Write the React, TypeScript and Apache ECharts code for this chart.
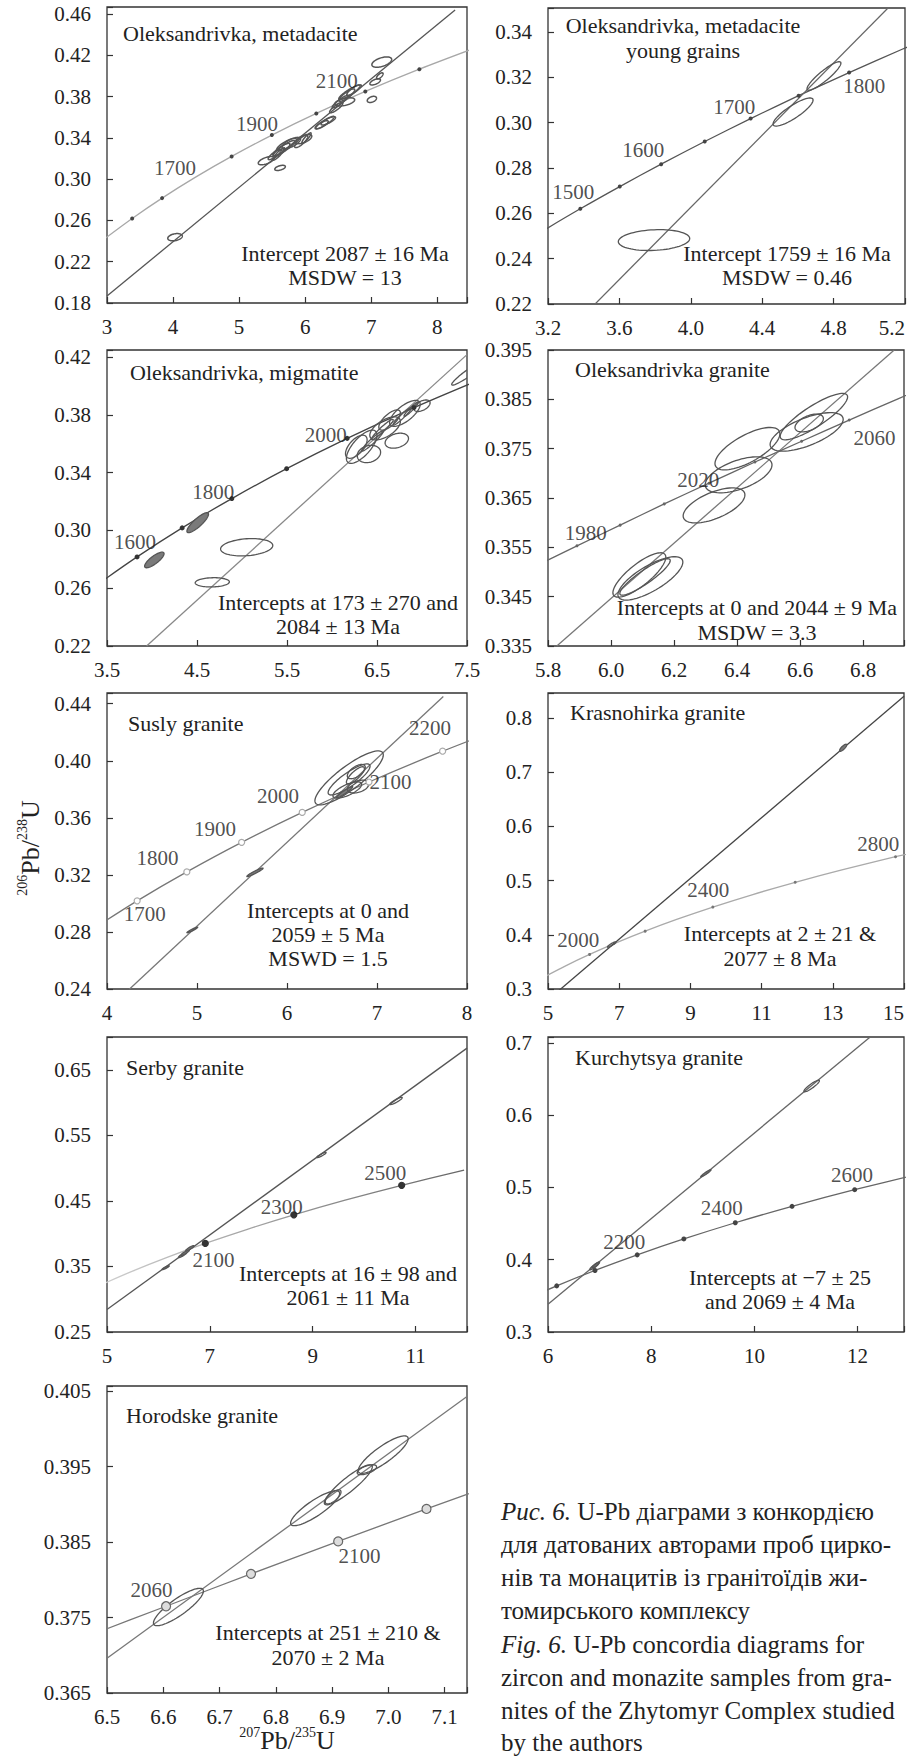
import { useEffect, useRef } from 'react';
import * as echarts from 'echarts';

const FONT = '"Liberation Serif", "Times New Roman", serif';

// Concordia curve points (age in Ma -> 207Pb/235U, 206Pb/238U)
const CONC_AGES = [1300, 1400, 1450, 1500, 1550, 1600, 1650, 1700, 1750, 1800, 1850, 1900, 1940, 1950, 1960, 1980, 2000, 2020, 2040, 2060, 2080, 2100, 2120, 2140, 2200, 2300, 2400, 2500, 2600, 2700, 2800, 2900];
const CONC_X = [2.598, 2.970, 3.170, 3.381, 3.602, 3.834, 4.078, 4.335, 4.604, 4.887, 5.184, 5.496, 5.757, 5.824, 5.892, 6.029, 6.169, 6.311, 6.457, 6.605, 6.756, 6.911, 7.068, 7.228, 7.729, 8.633, 9.630, 10.730, 11.944, 13.283, 14.762, 16.393];
const CONC_Y = [0.2234, 0.2426, 0.2522, 0.2620, 0.2718, 0.2817, 0.2917, 0.3018, 0.3119, 0.3221, 0.3324, 0.3428, 0.3511, 0.3532, 0.3553, 0.3595, 0.3638, 0.3680, 0.3723, 0.3765, 0.3808, 0.3851, 0.3894, 0.3937, 0.4067, 0.4287, 0.4511, 0.4738, 0.4968, 0.5202, 0.5440, 0.5681];

// ---------- Panel 1: Oleksandrivka, metadacite ----------
const P1_TITLE = ['Oleksandrivka, metadacite'];
const P1_NOTE = ['Intercept 2087 ± 16 Ma', 'MSDW = 13'];
const P1_XLAB = ['3', '4', '5', '6', '7', '8'];
const P1_YLAB = ['0.18', '0.22', '0.26', '0.30', '0.34', '0.38', '0.42', '0.46'];
const P1_CURVE = [1400, 1500, 1600, 1700, 1800, 1900, 2000, 2100, 2200, 2300];
const P1_MARKS = [1500, 1600, 1800, 1900, 2000, 2100, 2200];
const P1_AGE_LABELS = [[4.03, 0.3106, '1700'], [5.27, 0.3536, '1900'], [6.48, 0.3953, '2100']];
const P1_DISCORDIA = [[3, 0.1868], [8.27, 0.4642]];
// [x, y, half-width x, half-height y, rho, filled]
const P1_ELLIPSES = [
  [4.03, 0.2438, 0.11, 0.0035, 0.3, 0],
  [5.41, 0.318, 0.12, 0.004, 0.6, 0],
  [5.62, 0.311, 0.08, 0.0025, 0.5, 0],
  [5.54, 0.324, 0.10, 0.005, 0.85, 0],
  [5.64, 0.3288, 0.13, 0.006, 0.85, 0],
  [5.72, 0.3336, 0.15, 0.006, 0.8, 0],
  [5.79, 0.3351, 0.14, 0.0055, 0.7, 0],
  [5.60, 0.3245, 0.09, 0.006, 0.9, 0],
  [5.68, 0.3300, 0.16, 0.0075, 0.9, 0],
  [5.94, 0.3367, 0.10, 0.006, 0.8, 0],
  [6.02, 0.340, 0.07, 0.005, 0.9, 0],
  [5.98, 0.3390, 0.12, 0.0045, 0.6, 0],
  [6.25, 0.3528, 0.10, 0.004, 0.8, 0],
  [6.35, 0.3566, 0.11, 0.004, 0.8, 0],
  [6.30, 0.3550, 0.14, 0.006, 0.9, 0],
  [6.47, 0.3694, 0.10, 0.005, 0.85, 0],
  [6.53, 0.3752, 0.12, 0.006, 0.9, 0],
  [6.63, 0.3816, 0.12, 0.006, 0.85, 0],
  [6.73, 0.3864, 0.10, 0.005, 0.85, 0],
  [6.68, 0.3845, 0.17, 0.007, 0.9, 0],
  [6.60, 0.375, 0.15, 0.004, 0.5, 0],
  [7.01, 0.3774, 0.07, 0.003, 0.4, 0],
  [7.06, 0.3944, 0.08, 0.003, 0.6, 0],
  [7.16, 0.4136, 0.15, 0.005, 0.5, 0],
  [7.13, 0.4002, 0.05, 0.003, 0.7, 0],
];

// ---------- Panel 2: metadacite young grains ----------
const P2_TITLE = ['Oleksandrivka, metadacite', 'young grains'];
const P2_NOTE = ['Intercept 1759 ± 16 Ma', 'MSDW = 0.46'];
const P2_XLAB = ['3.2', '3.6', '4.0', '4.4', '4.8', '5.2'];
const P2_YLAB = ['0.22', '0.24', '0.26', '0.28', '0.30', '0.32', '0.34'];
const P2_CURVE = [1400, 1450, 1500, 1550, 1600, 1650, 1700, 1750, 1800, 1850, 1900];
const P2_MARKS = [1500, 1550, 1600, 1650, 1700, 1750, 1800];
const P2_AGE_LABELS = [[3.342, 0.2696, '1500'], [3.734, 0.288, '1600'], [4.244, 0.3071, '1700'], [4.972, 0.3162, '1800']];
const P2_DISCORDIA = [[3.46, 0.2197], [5.12, 0.3518]];
const P2_ELLIPSES = [
  [3.794, 0.2482, 0.2, 0.0046, 0.15, 0],
  [4.573, 0.3047, 0.112, 0.0062, 0.85, 0],
  [4.746, 0.3206, 0.095, 0.0063, 0.9, 0],
];

// ---------- Panel 3: migmatite ----------
const P3_TITLE = ['Oleksandrivka, migmatite'];
const P3_NOTE = ['Intercepts at 173 ± 270 and', '2084 ± 13 Ma'];
const P3_XLAB = ['3.5', '4.5', '5.5', '6.5', '7.5'];
const P3_YLAB = ['0.22', '0.26', '0.30', '0.34', '0.38', '0.42'];
const P3_CURVE = [1500, 1600, 1700, 1800, 1900, 2000, 2100, 2200];
const P3_MARKS = [1600, 1700, 1800, 1900, 2000, 2100];
const P3_AGE_LABELS = [[3.81, 0.2922, '1600'], [4.68, 0.3269, '1800'], [5.93, 0.3661, '2000']];
const P3_DISCORDIA = [[3.94, 0.22], [7.5, 0.4218]];
const P3_ELLIPSES = [
  [4.026, 0.2796, 0.108, 0.0054, 0.8, 1],
  [4.508, 0.3054, 0.12, 0.0069, 0.85, 1],
  [5.052, 0.2884, 0.29, 0.006, 0.2, 0],
  [4.67, 0.2641, 0.19, 0.0032, 0.1, 0],
  [7.53, 0.4097, 0.2, 0.009, 0.95, 0],
  [6.33, 0.358, 0.17, 0.0115, 0.7, 0],
  [6.41, 0.353, 0.13, 0.006, 0.2, 0],
  [6.72, 0.3622, 0.13, 0.0052, 0.3, 0],
  [6.59, 0.3707, 0.17, 0.008, 0.6, 0],
  [6.81, 0.3811, 0.17, 0.009, 0.7, 0],
  [7.0, 0.3864, 0.09, 0.004, 0.5, 0],
  [6.45, 0.362, 0.12, 0.007, 0.95, 0],
  [6.56, 0.370, 0.12, 0.007, 0.95, 0],
  [6.78, 0.379, 0.10, 0.006, 0.95, 0],
  [6.88, 0.384, 0.08, 0.005, 0.95, 0],
  [6.27, 0.358, 0.12, 0.008, 0.6, 0],
  [6.64, 0.3765, 0.12, 0.007, 0.7, 0],
];

// ---------- Panel 4: Oleksandrivka granite ----------
const P4_TITLE = ['Oleksandrivka granite'];
const P4_NOTE = ['Intercepts at 0 and 2044 ± 9 Ma', 'MSDW = 3.3'];
const P4_XLAB = ['5.8', '6.0', '6.2', '6.4', '6.6', '6.8'];
const P4_YLAB = ['0.335', '0.345', '0.355', '0.365', '0.375', '0.385', '0.395'];
const P4_CURVE = [1940, 1960, 1980, 2000, 2020, 2040, 2060, 2080, 2100, 2120];
const P4_MARKS = [1960, 1980, 2000, 2020, 2040, 2060, 2080];
const P4_AGE_LABELS = [[5.92, 0.358, '1980'], [6.277, 0.3687, '2020'], [6.836, 0.3771, '2060']];
const P4_DISCORDIA = [[5.828, 0.335], [6.899, 0.395]];
const P4_ELLIPSES = [
  [6.09, 0.3494, 0.084, 0.0045, 0.8, 0],
  [6.125, 0.3487, 0.103, 0.0044, 0.75, 0],
  [6.108, 0.349, 0.08, 0.0037, 0.9, 0],
  [6.327, 0.3635, 0.098, 0.00355, 0.6, 0],
  [6.405, 0.3697, 0.106, 0.00365, 0.55, 0],
  [6.433, 0.375, 0.103, 0.0043, 0.7, 0],
  [6.621, 0.3784, 0.116, 0.0039, 0.65, 0],
  [6.644, 0.3815, 0.107, 0.0047, 0.85, 0],
  [6.629, 0.3802, 0.045, 0.0018, 0.5, 0],
];

// ---------- Panel 5: Susly granite ----------
const P5_TITLE = ['Susly granite'];
const P5_NOTE = ['Intercepts at 0 and', '2059 ± 5 Ma', 'MSWD = 1.5'];
const P5_XLAB = ['4', '5', '6', '7', '8'];
const P5_YLAB = ['0.24', '0.28', '0.32', '0.36', '0.40', '0.44'];
const P5_CURVE = [1600, 1700, 1800, 1900, 2000, 2100, 2200, 2300];
const P5_MARKS = [1700, 1800, 1900, 2000, 2100, 2200];
const P5_AGE_LABELS = [[4.42, 0.2924, '1700'], [4.56, 0.3321, '1800'], [5.2, 0.3522, '1900'], [5.9, 0.3756, '2000'], [7.15, 0.3854, '2100'], [7.59, 0.4232, '2200']];
const P5_DISCORDIA = [[4.248, 0.2398], [7.737, 0.445]];
const P5_ELLIPSES = [
  [4.948, 0.2814, 0.06, 0.002, 0.95, 1],
  [5.644, 0.3218, 0.09, 0.003, 0.95, 1],
  [6.69, 0.388, 0.38, 0.0189, 0.85, 0],
  [6.69, 0.3869, 0.233, 0.0109, 0.85, 0],
  [6.77, 0.3924, 0.10, 0.005, 0.6, 0],
  [6.67, 0.3795, 0.16, 0.0057, 0.7, 0],
  [6.64, 0.378, 0.09, 0.004, 0.95, 1],
  [6.76, 0.3898, 0.10, 0.006, 0.8, 0],
  [6.79, 0.3819, 0.12, 0.0045, 0.4, 0],
];

// ---------- Panel 6: Krasnohirka granite ----------
const P6_TITLE = ['Krasnohirka granite'];
const P6_NOTE = ['Intercepts at 2 ± 21 &', '2077 ± 8 Ma'];
const P6_XLAB = ['5', '7', '9', '11', '13', '15'];
const P6_YLAB = ['0.3', '0.4', '0.5', '0.6', '0.7', '0.8'];
const P6_CURVE = [1800, 1900, 2000, 2100, 2200, 2300, 2400, 2500, 2600, 2700, 2800, 2900];
const P6_MARKS = [2000, 2200, 2400, 2600, 2800];
const P6_AGE_LABELS = [[5.85, 0.391, '2000'], [9.5, 0.482, '2400'], [14.28, 0.567, '2800']];
const P6_DISCORDIA = [[5.3, 0.2968], [15, 0.84]];
const P6_ELLIPSES = [
  [13.29, 0.745, 0.10, 0.0065, 0.8, 1],
  [6.79, 0.382, 0.12, 0.005, 0.9, 0],
];

// ---------- Panel 7: Serby granite ----------
const P7_TITLE = ['Serby granite'];
const P7_NOTE = ['Intercepts at 16 ± 98 and', '2061 ± 11 Ma'];
const P7_XLAB = ['5', '7', '9', '11'];
const P7_YLAB = ['0.25', '0.35', '0.45', '0.55', '0.65'];
const P7_CURVE = [1800, 1900, 2000, 2100, 2200, 2300, 2400, 2500, 2600];
const P7_MARKS = [2100, 2300, 2500];
const P7_AGE_LABELS = [[7.07, 0.3598, '2100'], [8.4, 0.4411, '2300'], [10.41, 0.492, '2500']];
const P7_DISCORDIA = [[5, 0.2842], [12, 0.683]];
const P7_ELLIPSES = [
  [6.14, 0.3481, 0.07, 0.003, 0.9, 1],
  [6.47, 0.3675, 0.08, 0.004, 0.9, 1],
  [6.52, 0.371, 0.08, 0.004, 0.9, 1],
  [6.61, 0.3777, 0.08, 0.004, 0.9, 1],
  [9.17, 0.52, 0.09, 0.004, 0.9, 0],
  [10.62, 0.6024, 0.12, 0.0055, 0.9, 0],
];

// ---------- Panel 8: Kurchytsya granite ----------
const P8_TITLE = ['Kurchytsya granite'];
const P8_NOTE = ['Intercepts at −7 ± 25', 'and 2069 ± 4 Ma'];
const P8_XLAB = ['6', '8', '10', '12'];
const P8_YLAB = ['0.3', '0.4', '0.5', '0.6', '0.7'];
const P8_CURVE = [1900, 2000, 2100, 2200, 2300, 2400, 2500, 2600, 2700];
const P8_MARKS = [2000, 2100, 2200, 2300, 2400, 2500, 2600];
const P8_AGE_LABELS = [[7.48, 0.4241, '2200'], [9.37, 0.4711, '2400'], [11.89, 0.5172, '2600']];
const P8_DISCORDIA = [[6, 0.3384], [12.25, 0.7084]];
const P8_ELLIPSES = [
  [6.9, 0.391, 0.09, 0.005, 0.9, 1],
  [6.93, 0.393, 0.07, 0.004, 0.9, 0],
  [9.06, 0.5195, 0.1, 0.005, 0.95, 1],
  [11.11, 0.6402, 0.15, 0.008, 0.9, 0],
];

// ---------- Panel 9: Horodske granite ----------
const P9_TITLE = ['Horodske granite'];
const P9_NOTE = ['Intercepts at 251 ± 210 &', '2070 ± 2 Ma'];
const P9_XLAB = ['6.5', '6.6', '6.7', '6.8', '6.9', '7.0', '7.1'];
const P9_YLAB = ['0.365', '0.375', '0.385', '0.395', '0.405'];
const P9_CURVE = [2040, 2060, 2080, 2100, 2120, 2140];
const P9_MARKS = [2060, 2080, 2100, 2120];
const P9_AGE_LABELS = [[6.579, 0.3787, '2060'], [6.949, 0.3832, '2100']];
const P9_DISCORDIA = [[6.5, 0.3696], [7.14, 0.4043]];
const P9_ELLIPSES = [
  [6.627, 0.3764, 0.0444, 0.00248, 0.85, 0],
  [6.87, 0.3895, 0.0436, 0.00232, 0.85, 0],
  [6.902, 0.391, 0.014, 0.00093, 0.7, 0],
  [6.929, 0.3926, 0.0427, 0.00265, 0.9, 0],
  [6.962, 0.3946, 0.0172, 0.00066, 0.6, 0],
  [6.991, 0.3966, 0.0444, 0.00249, 0.85, 0],
];

// ---------- caption & axis titles ----------
const CAPTION = [
  '{i|Рис. 6.} U-Pb діаграми з конкордією',
  'для датованих авторами проб цирко-',
  'нів та монацитів із гранітоїдів жи-',
  'томирського комплексу',
  '{i|Fig. 6.} U-Pb concordia diagrams for',
  'zircon and monazite samples from gra-',
  'nites of the Zhytomyr Complex studied',
  'by the authors',
];
const Y_TITLE = '{s|206}{b|Pb/}{s|238}{b|U}';
const X_TITLE = '{s|207}{b|Pb/}{s|235}{b|U}';

type Panel = {
  grid: { left: number; top: number; width: number; height: number };
  x: number[]; y: number[];
  xLab: string[]; yLab: string[];
  curve: number[]; marks: number[];
  labels: any[]; disc: number[][]; ell: number[][];
  title: string[]; titlePos: { x: number; y: number; align: string; dy: number };
  note: string[]; notePos: { x: number; y: number; dy: number };
  concColor: any; discColor: string; ellWidth: number; alignMax: boolean;
  mark: { size: number; fill: string; stroke: string };
};

const PANELS: Panel[] = [
  {
    grid: { left: 107, top: 7, width: 360, height: 296 }, x: [3, 8.45, 1], y: [0.18, 0.467, 0.04],
    xLab: P1_XLAB, yLab: P1_YLAB, curve: P1_CURVE, marks: P1_MARKS, labels: P1_AGE_LABELS, disc: P1_DISCORDIA, ell: P1_ELLIPSES,
    title: P1_TITLE, titlePos: { x: 123, y: 33, align: 'left', dy: 25 }, note: P1_NOTE, notePos: { x: 345, y: 253, dy: 24 },
    concColor: '#a8a8a8', discColor: '#555', ellWidth: 1.5, alignMax: false, mark: { size: 4, fill: '#444', stroke: '#444' },
  },
  {
    grid: { left: 548, top: 8, width: 357, height: 296 }, x: [3.2, 5.2, 0.4], y: [0.22, 0.3506, 0.02],
    xLab: P2_XLAB, yLab: P2_YLAB, curve: P2_CURVE, marks: P2_MARKS, labels: P2_AGE_LABELS, disc: P2_DISCORDIA, ell: P2_ELLIPSES,
    title: P2_TITLE, titlePos: { x: 683, y: 25, align: 'center', dy: 25 }, note: P2_NOTE, notePos: { x: 787, y: 253, dy: 24 },
    concColor: '#555', discColor: '#666', ellWidth: 1.3, alignMax: true, mark: { size: 4, fill: '#444', stroke: '#444' },
  },
  {
    grid: { left: 107, top: 350, width: 360, height: 296 }, x: [3.5, 7.5, 1], y: [0.22, 0.425, 0.04],
    xLab: P3_XLAB, yLab: P3_YLAB, curve: P3_CURVE, marks: P3_MARKS, labels: P3_AGE_LABELS, disc: P3_DISCORDIA, ell: P3_ELLIPSES,
    title: P3_TITLE, titlePos: { x: 130, y: 372, align: 'left', dy: 25 }, note: P3_NOTE, notePos: { x: 338, y: 602, dy: 24 },
    concColor: '#444', discColor: '#888', ellWidth: 1.3, alignMax: false, mark: { size: 5, fill: '#333', stroke: '#333' },
  },
  {
    grid: { left: 548, top: 350, width: 356, height: 296 }, x: [5.8, 6.93, 0.2], y: [0.335, 0.395, 0.01],
    xLab: P4_XLAB, yLab: P4_YLAB, curve: P4_CURVE, marks: P4_MARKS, labels: P4_AGE_LABELS, disc: P4_DISCORDIA, ell: P4_ELLIPSES,
    title: P4_TITLE, titlePos: { x: 575, y: 369, align: 'left', dy: 25 }, note: P4_NOTE, notePos: { x: 757, y: 607, dy: 25 },
    concColor: '#666', discColor: '#777', ellWidth: 1.3, alignMax: false, mark: { size: 3, fill: '#666', stroke: '#666' },
  },
  {
    grid: { left: 107, top: 693, width: 360, height: 296 }, x: [4, 8, 1], y: [0.24, 0.4475, 0.04],
    xLab: P5_XLAB, yLab: P5_YLAB, curve: P5_CURVE, marks: P5_MARKS, labels: P5_AGE_LABELS, disc: P5_DISCORDIA, ell: P5_ELLIPSES,
    title: P5_TITLE, titlePos: { x: 128, y: 723, align: 'left', dy: 25 }, note: P5_NOTE, notePos: { x: 328, y: 910, dy: 24 },
    concColor: '#777', discColor: '#777', ellWidth: 1.3, alignMax: false, mark: { size: 6, fill: '#fff', stroke: '#aaa' },
  },
  {
    grid: { left: 548, top: 693, width: 356, height: 296 }, x: [5, 15, 2], y: [0.3, 0.846, 0.1],
    xLab: P6_XLAB, yLab: P6_YLAB, curve: P6_CURVE, marks: P6_MARKS, labels: P6_AGE_LABELS, disc: P6_DISCORDIA, ell: P6_ELLIPSES,
    title: P6_TITLE, titlePos: { x: 570, y: 712, align: 'left', dy: 25 }, note: P6_NOTE, notePos: { x: 780, y: 933, dy: 25 },
    concColor: '#aaa', discColor: '#444', ellWidth: 1.3, alignMax: true, mark: { size: 3, fill: '#777', stroke: '#777' },
  },
  {
    grid: { left: 107, top: 1037, width: 360, height: 295 }, x: [5, 12, 2], y: [0.25, 0.70, 0.1],
    xLab: P7_XLAB, yLab: P7_YLAB, curve: P7_CURVE, marks: P7_MARKS, labels: P7_AGE_LABELS, disc: P7_DISCORDIA, ell: P7_ELLIPSES,
    title: P7_TITLE, titlePos: { x: 126, y: 1067, align: 'left', dy: 25 }, note: P7_NOTE, notePos: { x: 348, y: 1273, dy: 24 },
    concColor: {
      type: 'linear', x: 0, y: 0, x2: 1, y2: 0,
      colorStops: [{ offset: 0, color: '#cfcfcf' }, { offset: 0.35, color: '#aaa' }, { offset: 1, color: '#666' }],
    },
    discColor: '#555', ellWidth: 1.3, alignMax: false, mark: { size: 6, fill: '#333', stroke: '#333' },
  },
  {
    grid: { left: 548, top: 1037, width: 356, height: 295 }, x: [6, 12.9, 2], y: [0.3, 0.708, 0.1],
    xLab: P8_XLAB, yLab: P8_YLAB, curve: P8_CURVE, marks: P8_MARKS, labels: P8_AGE_LABELS, disc: P8_DISCORDIA, ell: P8_ELLIPSES,
    title: P8_TITLE, titlePos: { x: 575, y: 1057, align: 'left', dy: 25 }, note: P8_NOTE, notePos: { x: 780, y: 1277, dy: 24 },
    concColor: '#666', discColor: '#666', ellWidth: 1.3, alignMax: false, mark: { size: 5, fill: '#444', stroke: '#444' },
  },
  {
    grid: { left: 107, top: 1386, width: 360, height: 307 }, x: [6.5, 7.14, 0.1], y: [0.365, 0.4057, 0.01],
    xLab: P9_XLAB, yLab: P9_YLAB, curve: P9_CURVE, marks: P9_MARKS, labels: P9_AGE_LABELS, disc: P9_DISCORDIA, ell: P9_ELLIPSES,
    title: P9_TITLE, titlePos: { x: 126, y: 1415, align: 'left', dy: 25 }, note: P9_NOTE, notePos: { x: 328, y: 1632, dy: 25 },
    concColor: '#777', discColor: '#777', ellWidth: 1.3, alignMax: false, mark: { size: 9, fill: '#ddd', stroke: '#666' },
  },
];

function conc(age: number): number[] {
  const i = CONC_AGES.indexOf(age);
  return [CONC_X[i], CONC_Y[i]];
}

function labelFormatter(labels: string[]) {
  return (v: number) => {
    const hit = labels.find((l) => Math.abs(parseFloat(l) - v) < 1e-6);
    return hit === undefined ? '' : hit;
  };
}

function txt(x: number, y: number, text: string, align: string, size = 22, extra: any = {}) {
  return {
    type: 'text', x, y, silent: true,
    style: {
      text, fill: '#222', fontSize: size, fontFamily: FONT,
      align, verticalAlign: 'middle', textAlign: align, textVerticalAlign: 'middle', ...extra,
    },
  };
}

function buildOption() {
  const grid: any[] = [];
  const xAxis: any[] = [];
  const yAxis: any[] = [];
  const series: any[] = [];
  const graphic: any[] = [];
  const axisLabelStyle = { fontFamily: FONT, fontSize: 21, color: '#222' };

  PANELS.forEach((p, i) => {
    grid.push({
      ...p.grid, show: true, borderColor: '#333', borderWidth: 1.3, backgroundColor: 'transparent',
      containLabel: false, outerBoundsMode: 'none',
    });
    xAxis.push({
      type: 'value', gridIndex: i, min: p.x[0], max: p.x[1], interval: p.x[2],
      axisLine: { show: false }, splitLine: { show: false },
      axisTick: { show: true, inside: true, length: 6, lineStyle: { color: '#333', width: 1.2 } },
      axisLabel: {
        ...axisLabelStyle, margin: 13, formatter: labelFormatter(p.xLab),
        ...(p.alignMax ? { alignMaxLabel: 'right' } : {}),
      },
    });
    yAxis.push({
      type: 'value', gridIndex: i, min: p.y[0], max: p.y[1], interval: p.y[2],
      axisLine: { show: false }, splitLine: { show: false },
      axisTick: { show: true, inside: true, length: 6, lineStyle: { color: '#333', width: 1.2 } },
      axisLabel: { ...axisLabelStyle, margin: 16, formatter: labelFormatter(p.yLab) },
    });
    // concordia
    series.push({
      type: 'line', xAxisIndex: i, yAxisIndex: i, data: p.curve.map(conc), smooth: 0.3,
      showSymbol: false, symbol: 'none', silent: true, clip: true,
      lineStyle: { color: p.concColor, width: 1.3 }, z: 2,
    });
    // discordia
    series.push({
      type: 'line', xAxisIndex: i, yAxisIndex: i, data: p.disc, showSymbol: false, symbol: 'none',
      silent: true, clip: true, lineStyle: { color: p.discColor, width: 1.3 }, z: 2,
    });
    // error ellipses
    const ew = p.ellWidth;
    series.push({
      type: 'custom', xAxisIndex: i, yAxisIndex: i, data: p.ell, clip: true, silent: true, z: 3,
      encode: { x: 0, y: 1 },
      renderItem: (_params: any, api: any) => {
        const cx = api.value(0), cy = api.value(1), sx = api.value(2), sy = api.value(3), r = api.value(4);
        const filled = api.value(5) === 1;
        const s = Math.sqrt(Math.max(0, 1 - r * r));
        const pts: number[][] = [];
        for (let k = 0; k < 72; k++) {
          const t = (k / 72) * Math.PI * 2;
          pts.push(api.coord([cx + sx * Math.cos(t), cy + sy * (r * Math.cos(t) + s * Math.sin(t))]));
        }
        return {
          type: 'polygon', shape: { points: pts },
          style: { fill: filled ? '#7a7a7a' : 'none', stroke: '#555', lineWidth: ew },
        };
      },
    });
    // age markers
    series.push({
      type: 'scatter', xAxisIndex: i, yAxisIndex: i, data: p.marks.map(conc), symbol: 'circle',
      symbolSize: p.mark.size, silent: true, z: 4,
      itemStyle: { color: p.mark.fill, borderColor: p.mark.stroke, borderWidth: p.mark.size > 5 ? 1.2 : 0, opacity: 1 },
    });
    // age labels
    series.push({
      type: 'scatter', xAxisIndex: i, yAxisIndex: i, data: p.labels, symbolSize: 0, silent: true, z: 5,
      itemStyle: { color: 'transparent' },
      label: {
        show: true, position: 'inside', formatter: (q: any) => String(q.data[2]),
        fontFamily: FONT, fontSize: 21, color: '#222',
      },
    });
    // titles
    p.title.forEach((t, k) => graphic.push(txt(p.titlePos.x, p.titlePos.y + k * p.titlePos.dy, t, p.titlePos.align)));
    // notes
    p.note.forEach((t, k) => graphic.push(txt(p.notePos.x, p.notePos.y + k * p.notePos.dy, t, 'center')));
  });

  const titleRich = {
    s: { fontSize: 14, lineHeight: 14, verticalAlign: 'top', fontFamily: FONT, fill: '#222', color: '#222' },
    b: { fontSize: 26, lineHeight: 30, verticalAlign: 'middle', fontFamily: FONT, fill: '#222', color: '#222' },
  };
  graphic.push({ ...txt(30, 848, Y_TITLE, 'center', 26, { rich: titleRich }), rotation: Math.PI / 2 });
  graphic.push(txt(287, 1740, X_TITLE, 'center', 26, { rich: titleRich }));

  const capY = [1511, 1544, 1577, 1610, 1644, 1677, 1710, 1742];
  CAPTION.forEach((line, k) => {
    graphic.push(txt(501, capY[k], line, 'left', 25, {
      lineHeight: 26,
      rich: { i: { fontStyle: 'italic', fontSize: 25, lineHeight: 26, fontFamily: FONT, fill: '#222', color: '#222' } },
    }));
  });

  return {
    animation: false,
    backgroundColor: '#fff',
    grid, xAxis, yAxis, series, graphic,
  };
}

export default function App() {
  const ref = useRef<HTMLDivElement>(null);
  useEffect(() => {
    if (!ref.current) return;
    const chart = echarts.init(ref.current, null, { renderer: 'svg' });
    chart.setOption(buildOption() as any);
    return () => chart.dispose();
  }, []);
  return (
    <div
      ref={ref}
      style={{ position: 'absolute', left: 0, top: 0, width: 911, height: 1758, background: '#fff' }}
    />
  );
}
